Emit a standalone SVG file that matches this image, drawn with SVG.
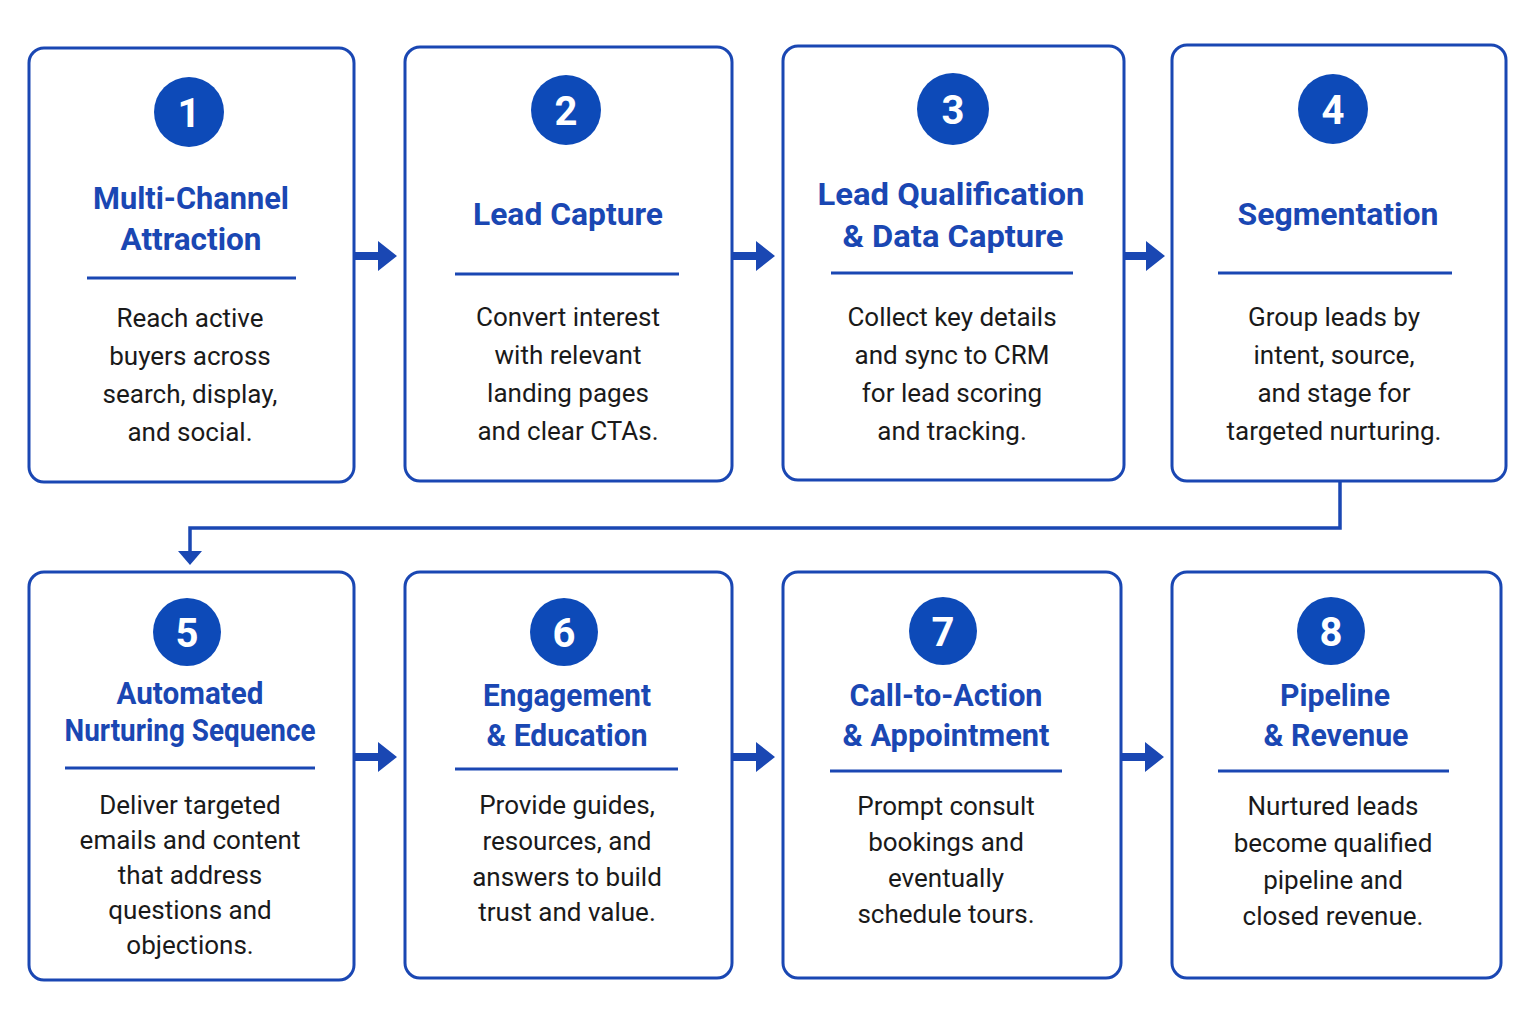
<svg xmlns="http://www.w3.org/2000/svg" width="1536" height="1024" viewBox="0 0 1536 1024">
<style>
.box{fill:#ffffff;stroke:#1a47b3;stroke-width:3}
.num{fill:#0d4ab8}
.numt{fill:#ffffff;font-family:Roboto,"Liberation Sans",sans-serif;font-weight:700;font-size:40px;text-anchor:middle}
.title{fill:#1a47b3;font-family:Roboto,"Liberation Sans",sans-serif;font-weight:700;font-size:31px;text-anchor:middle}
.div{stroke:#1a47b3;stroke-width:3}
.body{fill:#1a1a1a;font-family:Roboto,"Liberation Sans",sans-serif;font-size:26px;text-anchor:middle}
.conn{fill:none;stroke:#1a47b3;stroke-width:3.5}
.arr{fill:#1a47b3}
</style>
<rect width="1536" height="1024" fill="#ffffff"/>
<g id="connectors">
<path class="arr" d="M354,252 H378 V241 L397,256 L378,271 V260 H354 Z"/>
<path class="arr" d="M732,252 H756 V241 L775,256 L756,271 V260 H732 Z"/>
<path class="arr" d="M1124,252 H1146 V241 L1165,256 L1146,271 V260 H1124 Z"/>
<path class="arr" d="M354,753 H378 V742 L397,757 L378,772 V761 H354 Z"/>
<path class="arr" d="M732,753 H756 V742 L775,757 L756,772 V761 H732 Z"/>
<path class="arr" d="M1121,753 H1145 V742 L1164,757 L1145,772 V761 H1121 Z"/>
<path class="conn" d="M1340,481 V528 H190 V552"/>
<path class="arr" d="M178,551 L202,551 L190,565 Z"/>
</g>
<g id="node1">
<rect class="box" x="29" y="48" width="325" height="434" rx="15"/>
<circle class="num" cx="189" cy="112" r="35"/>
<text class="numt" x="189" y="127">1</text>
<text class="title" x="191" y="209" textLength="196" lengthAdjust="spacingAndGlyphs">Multi-Channel</text>
<text class="title" x="191" y="250" textLength="141" lengthAdjust="spacingAndGlyphs">Attraction</text>
<line class="div" x1="87" y1="278" x2="296" y2="278"/>
<text class="body"><tspan x="190" y="327">Reach active</tspan><tspan x="190" y="365">buyers across</tspan><tspan x="190" y="403">search, display,</tspan><tspan x="190" y="441">and social.</tspan></text>
</g>
<g id="node2">
<rect class="box" x="405" y="47" width="327" height="434" rx="15"/>
<circle class="num" cx="566" cy="110" r="35"/>
<text class="numt" x="566" y="125">2</text>
<text class="title" x="568" y="225" textLength="190" lengthAdjust="spacingAndGlyphs">Lead Capture</text>
<line class="div" x1="455" y1="274" x2="679" y2="274"/>
<text class="body"><tspan x="568" y="326">Convert interest</tspan><tspan x="568" y="364">with relevant</tspan><tspan x="568" y="402">landing pages</tspan><tspan x="568" y="440">and clear CTAs.</tspan></text>
</g>
<g id="node3">
<rect class="box" x="783" y="46" width="341" height="434" rx="15"/>
<circle class="num" cx="953" cy="109" r="36"/>
<text class="numt" x="953" y="124">3</text>
<text class="title" x="951" y="205" textLength="267" lengthAdjust="spacingAndGlyphs">Lead Qualification</text>
<text class="title" x="953" y="247" textLength="221" lengthAdjust="spacingAndGlyphs">&amp; Data Capture</text>
<line class="div" x1="831" y1="273" x2="1073" y2="273"/>
<text class="body"><tspan x="952" y="326">Collect key details</tspan><tspan x="952" y="364">and sync to CRM</tspan><tspan x="952" y="402">for lead scoring</tspan><tspan x="952" y="440">and tracking.</tspan></text>
</g>
<g id="node4">
<rect class="box" x="1172" y="45" width="334" height="436" rx="15"/>
<circle class="num" cx="1333" cy="109" r="35"/>
<text class="numt" x="1333" y="124">4</text>
<text class="title" x="1338" y="225" textLength="201" lengthAdjust="spacingAndGlyphs">Segmentation</text>
<line class="div" x1="1218" y1="273" x2="1452" y2="273"/>
<text class="body"><tspan x="1334" y="326">Group leads by</tspan><tspan x="1334" y="364">intent, source,</tspan><tspan x="1334" y="402">and stage for</tspan><tspan x="1334" y="440">targeted nurturing.</tspan></text>
</g>
<g id="node5">
<rect class="box" x="29" y="572" width="325" height="408" rx="15"/>
<circle class="num" cx="187" cy="632" r="34"/>
<text class="numt" x="187" y="647">5</text>
<text class="title" x="190" y="704" textLength="147" lengthAdjust="spacingAndGlyphs">Automated</text>
<text class="title" x="190" y="741" textLength="251" lengthAdjust="spacingAndGlyphs">Nurturing Sequence</text>
<line class="div" x1="65" y1="768" x2="315" y2="768"/>
<text class="body"><tspan x="190" y="814">Deliver targeted</tspan><tspan x="190" y="849">emails and content</tspan><tspan x="190" y="884">that address</tspan><tspan x="190" y="919">questions and</tspan><tspan x="190" y="954">objections.</tspan></text>
</g>
<g id="node6">
<rect class="box" x="405" y="572" width="327" height="406" rx="15"/>
<circle class="num" cx="564" cy="632" r="34"/>
<text class="numt" x="564" y="647">6</text>
<text class="title" x="567" y="706" textLength="168" lengthAdjust="spacingAndGlyphs">Engagement</text>
<text class="title" x="567" y="746" textLength="161" lengthAdjust="spacingAndGlyphs">&amp; Education</text>
<line class="div" x1="455" y1="769" x2="678" y2="769"/>
<text class="body"><tspan x="567" y="814">Provide guides,</tspan><tspan x="567" y="850">resources, and</tspan><tspan x="567" y="886">answers to build</tspan><tspan x="567" y="921">trust and value.</tspan></text>
</g>
<g id="node7">
<rect class="box" x="783" y="572" width="338" height="406" rx="15"/>
<circle class="num" cx="943" cy="631" r="34"/>
<text class="numt" x="943" y="646">7</text>
<text class="title" x="946" y="706" textLength="193" lengthAdjust="spacingAndGlyphs">Call-to-Action</text>
<text class="title" x="946" y="746" textLength="207" lengthAdjust="spacingAndGlyphs">&amp; Appointment</text>
<line class="div" x1="830" y1="771" x2="1062" y2="771"/>
<text class="body"><tspan x="946" y="815">Prompt consult</tspan><tspan x="946" y="851">bookings and</tspan><tspan x="946" y="887">eventually</tspan><tspan x="946" y="923">schedule tours.</tspan></text>
</g>
<g id="node8">
<rect class="box" x="1172" y="572" width="329" height="406" rx="15"/>
<circle class="num" cx="1331" cy="631" r="34"/>
<text class="numt" x="1331" y="646">8</text>
<text class="title" x="1335" y="706" textLength="110" lengthAdjust="spacingAndGlyphs">Pipeline</text>
<text class="title" x="1336" y="746" textLength="145" lengthAdjust="spacingAndGlyphs">&amp; Revenue</text>
<line class="div" x1="1218" y1="771" x2="1449" y2="771"/>
<text class="body"><tspan x="1333" y="815">Nurtured leads</tspan><tspan x="1333" y="852">become qualified</tspan><tspan x="1333" y="889">pipeline and</tspan><tspan x="1333" y="925">closed revenue.</tspan></text>
</g>
</svg>
